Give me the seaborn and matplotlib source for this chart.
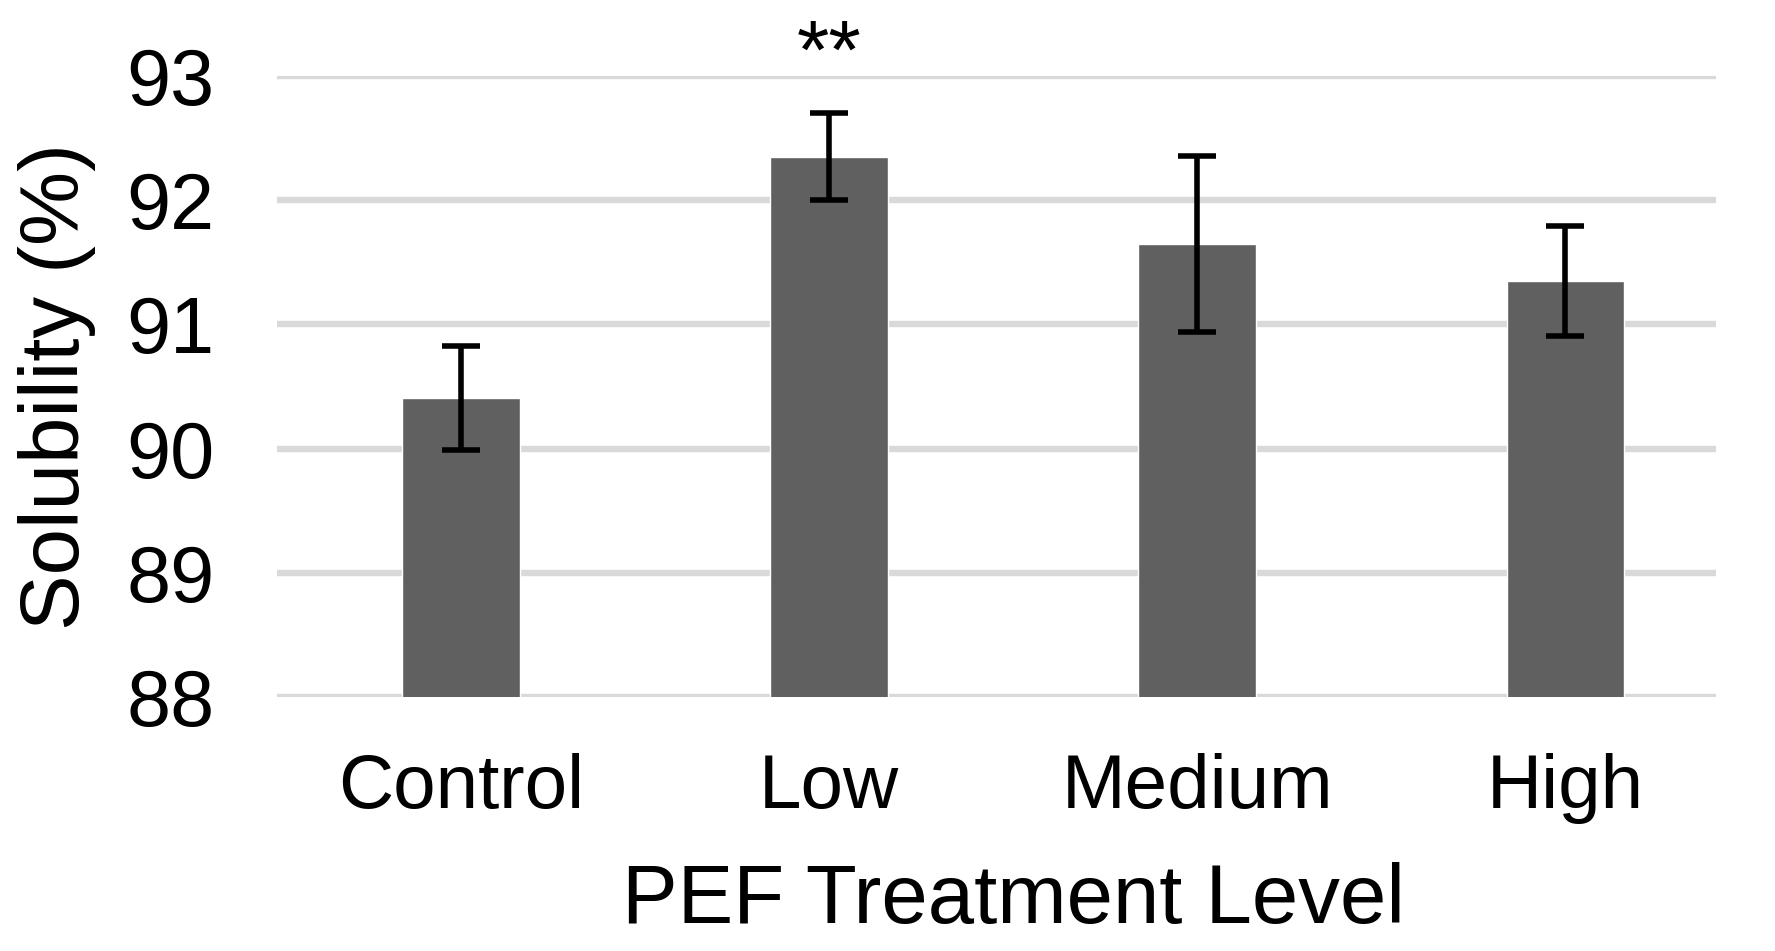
import matplotlib
matplotlib.use("Agg")
import matplotlib.pyplot as plt
import seaborn as sns
import pandas as pd
import numpy as np

# Data
levels = ["Control", "Low", "Medium", "High"]
solubility = [90.41, 92.35, 91.65, 91.35]
sd = [0.42, 0.35, 0.71, 0.44]
significance = ["", "**", "", ""]

df = pd.DataFrame({"Level": levels, "Solubility": solubility, "SD": sd})

sns.set_theme(style="white")
plt.rcParams["font.family"] = ["Liberation Sans", "DejaVu Sans"]

fig = plt.figure(figsize=(17.75, 9.51), dpi=100)
ax = fig.add_axes([0.156, 0.267, 0.811, 0.653])

ax.set_axisbelow(True)
ax.yaxis.grid(True, color="#d9d9d9", linewidth=4.6)
ax.xaxis.grid(False)

sns.barplot(data=df, x="Level", y="Solubility", color="#606060",
            width=0.32, saturation=1, ax=ax, errorbar=None)

xpos = np.arange(len(levels))
ax.errorbar(xpos, df["Solubility"], yerr=df["SD"], fmt="none",
            ecolor="black", elinewidth=4, capsize=14, capthick=4, zorder=5)

# significance marks above the bars
for x, s in zip(xpos, significance):
    if s:
        ax.text(x, 92.84, s, ha="center", va="bottom", fontsize=60,
                color="black", clip_on=False)

ax.set_ylim(88, 93)
ax.set_xlim(-0.5, 3.41)
ax.set_yticks([88, 89, 90, 91, 92, 93])

for sp in ax.spines.values():
    sp.set_visible(False)

ax.tick_params(axis="y", length=0, pad=45, labelsize=57, labelcolor="black")
ax.tick_params(axis="x", length=0, pad=40, labelsize=55, labelcolor="black")

ax.set_xlabel("PEF Treatment Level", fontsize=60, color="black", labelpad=31)
ax.xaxis.set_label_coords(0.512, -0.265)
ax.set_ylabel("Solubility (%)", fontsize=60, color="black", labelpad=22)

fig.savefig("out.png", dpi=100, facecolor="white")
plt.close(fig)
